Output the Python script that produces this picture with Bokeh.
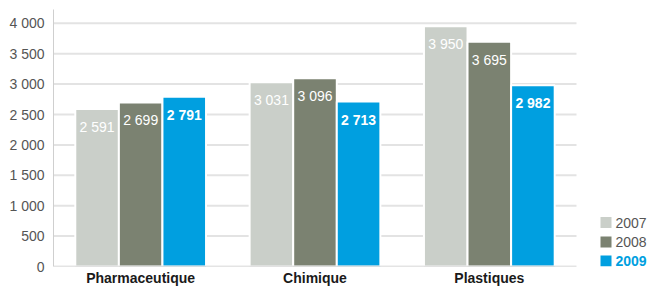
from bokeh.plotting import figure
from bokeh.models import Range1d, FixedTicker
from bokeh.core.properties import value
from bokeh.embed import file_html
from bokeh.resources import INLINE

# ---- data ----
categories = ["Pharmaceutique", "Chimique", "Plastiques"]
years = ["2007", "2008", "2009"]
v2007 = [2591, 3031, 3950]
v2008 = [2699, 3096, 3695]
v2009 = [2791, 2713, 2982]
y_ticks = [0, 500, 1000, 1500, 2000, 2500, 3000, 3500, 4000]
y_tick_labels = ["0", "500", "1 000", "1 500", "2 000", "2 500", "3 000", "3 500", "4 000"]

colors = ["#cacfc9", "#7b8271", "#009fe0"]
FONT = "Liberation Sans"

# ---- layout constants ----
LEFT = 53
FRAME_W = 600
PX_PER_CAT = 174.33
X_END = FRAME_W / PX_PER_CAT
Y_MAX = 4227
FRAME_H = 257
PX_PER_Y = FRAME_H / Y_MAX

p = figure(frame_width=FRAME_W, frame_height=FRAME_H, output_backend="svg",
           toolbar_location=None,
           x_range=Range1d(0, X_END), y_range=Range1d(0, Y_MAX),
           min_border_left=LEFT, min_border_right=0, min_border_top=9,
           min_border_bottom=0)
p.outline_line_color = None
p.xgrid.visible = False
p.ygrid.visible = False
p.background_fill_color = "white"
p.border_fill_color = "white"

n = len(categories)
centers = [i + 0.5 for i in range(n)]

# gridlines (drawn under bars)
grid_y = [t for t in y_ticks if t > 0]
p.segment(x0=[0] * len(grid_y), y0=grid_y, x1=[n] * len(grid_y), y1=grid_y,
          line_color="#e3e3e3", line_width=2)

series = [v2007, v2008, v2009]
offsets = [-0.25, 0.0, 0.25]
for vals, off, col, yr in zip(series, offsets, colors, years):
    xs = [c + off for c in centers]
    p.vbar(x=xs, top=vals, width=0.25, bottom=0, fill_color=col,
           line_color="white", line_width=2)
    labels = [f"{v:,}".replace(",", " ") for v in vals]
    p.text(x=xs, y=vals, text=labels, text_align="center", text_baseline="middle",
           y_offset=18, text_color="white", text_font=value(FONT),
           text_font_size="14px",
           text_font_style="bold" if yr == "2009" else "normal")

# baseline
p.segment(x0=[0], y0=[0], x1=[n], y1=[0], line_color="#c9c9c9", line_width=1.5)

# y axis
yax = p.yaxis[0]
yax.ticker = FixedTicker(ticks=y_ticks)
yax.major_label_overrides = {t: l for t, l in zip(y_ticks, y_tick_labels)}
yax.axis_line_color = "#cfcfcf"
yax.axis_line_width = 1
yax.major_tick_line_color = None
yax.minor_tick_line_color = None
yax.major_tick_out = 0
yax.major_tick_in = 0
yax.major_label_standoff = 9
yax.major_label_text_font = FONT
yax.major_label_text_font_size = "14px"
yax.major_label_text_color = "#555555"

# x axis
xax = p.xaxis[0]
xax.ticker = FixedTicker(ticks=centers)
xax.major_label_overrides = {c: name for c, name in zip(centers, categories)}
xax.axis_line_color = None
xax.major_tick_line_color = None
xax.minor_tick_line_color = None
xax.major_tick_out = 0
xax.major_tick_in = 0
xax.axis_label_standoff = 0
xax.major_label_standoff = 3
xax.major_label_text_font = FONT
xax.major_label_text_font_size = "14px"
xax.major_label_text_font_style = "bold"
xax.major_label_text_color = "#1a1a1a"

# legend (custom)
leg_px_above_base = [44, 24.5, 5.5]
leg_y = [px / PX_PER_Y for px in leg_px_above_base]
leg_sq_x = (605.5 - LEFT) / PX_PER_CAT
leg_tx_x = (615 - LEFT) / PX_PER_CAT
p.rect(x=[leg_sq_x] * 3, y=leg_y, width=11, height=11, width_units="screen",
       height_units="screen", fill_color=colors, line_color=None)
leg_text_colors = ["#555555", "#555555", "#009fe0"]
for yv, yr, tc in zip(leg_y, years, leg_text_colors):
    p.text(x=[leg_tx_x], y=[yv], text=[yr], text_align="left", text_baseline="middle",
           text_color=tc, text_font=value(FONT), text_font_size="14px",
           text_font_style="bold" if yr == "2009" else "normal")

open("out.html", "w").write(file_html(p, INLINE))
